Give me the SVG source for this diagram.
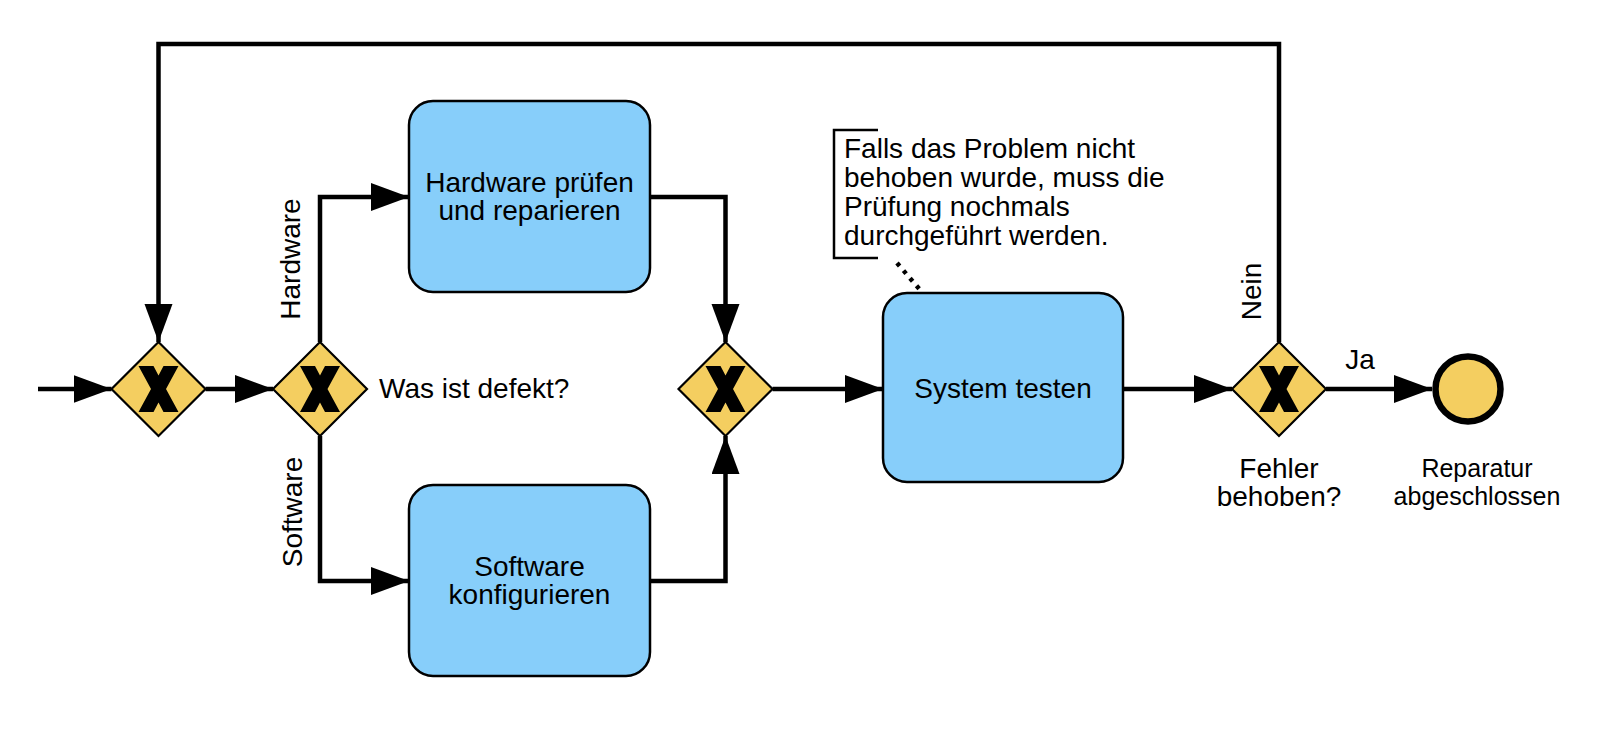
<svg xmlns="http://www.w3.org/2000/svg" width="1600" height="734" viewBox="0 0 1600 734">
<style>
text { font-family: "Liberation Sans", Arial, Helvetica, sans-serif; fill: #000; }
.lbl { font-size: 28px; }
.sm { font-size: 25px; }
.mid { text-anchor: middle; }
.task { fill: #87CEFA; stroke: #000; stroke-width: 2.5; }
.gw { fill: #F4CE60; stroke: #000; stroke-width: 2.2; stroke-linejoin: miter; }
.xm { fill: #000; }
.flow { fill: none; stroke: #000; stroke-width: 4.5; stroke-linejoin: miter; marker-end: url(#arrow); }
.assoc { fill: none; stroke: #000; stroke-width: 4.5; stroke-dasharray: 4 6; }
</style>
<defs>
<marker id="arrow" markerUnits="userSpaceOnUse" markerWidth="40" markerHeight="30" refX="38" refY="14" orient="auto">
<path d="M0,0 L38,14 L0,28 Z" fill="#000"/>
</marker>
<polygon id="xmark" points="-20,-23 -5,-23 0,-13.5 5,-23 20,-23 7.5,0 20,23 5,23 0,13.5 -5,23 -20,23 -7.5,0"/>
</defs>
<rect width="1600" height="734" fill="#fff"/>

<g id="connectors">
<path class="flow" d="M38,389 H111.5"/>
<path class="flow" d="M205.5,389 H273"/>
<path class="flow" d="M320,342 V197 H409"/>
<path class="flow" d="M320,436 V581 H409"/>
<path class="flow" d="M650,197 H725.5 V342"/>
<path class="flow" d="M650,581 H725.5 V436"/>
<path class="flow" d="M772.5,389 H883"/>
<path class="flow" d="M1123,389 H1232"/>
<path class="flow" d="M1326,389 H1432"/>
<path class="flow" d="M1279,342 V44 H158.5 V342"/>
<path class="assoc" d="M897,263 L921,291"/>
</g>

<g id="gw1">
<polygon class="gw" points="158.5,342 205.5,389 158.5,436 111.5,389"/>
<use href="#xmark" class="xm" x="158.5" y="389"/>
</g>

<g id="gw2">
<polygon class="gw" points="320,342 367,389 320,436 273,389"/>
<use href="#xmark" class="xm" x="320" y="389"/>
<text class="lbl" x="379" y="398">Was ist defekt?</text>
<text class="lbl mid" transform="translate(300,259) rotate(-90)">Hardware</text>
<text class="lbl mid" transform="translate(302,512) rotate(-90)">Software</text>
</g>

<g id="task-hw">
<rect class="task" x="409" y="101" width="241" height="191" rx="24"/>
<text class="lbl mid" x="529.5" y="192">Hardware prüfen</text>
<text class="lbl mid" x="529.5" y="220">und reparieren</text>
</g>

<g id="task-sw">
<rect class="task" x="409" y="485" width="241" height="191" rx="24"/>
<text class="lbl mid" x="529.5" y="576">Software</text>
<text class="lbl mid" x="529.5" y="604">konfigurieren</text>
</g>

<g id="gw3">
<polygon class="gw" points="725.5,342 772.5,389 725.5,436 678.5,389"/>
<use href="#xmark" class="xm" x="725.5" y="389"/>
</g>

<g id="task-test">
<rect class="task" x="883" y="293" width="240" height="189" rx="24"/>
<text class="lbl mid" x="1003" y="398">System testen</text>
</g>

<g id="annotation">
<path d="M878,130 H834 V258 H878" fill="none" stroke="#000" stroke-width="2.5"/>
<text class="lbl" x="844" y="158">Falls das Problem nicht</text>
<text class="lbl" x="844" y="187">behoben wurde, muss die</text>
<text class="lbl" x="844" y="216">Prüfung nochmals</text>
<text class="lbl" x="844" y="245">durchgeführt werden.</text>
</g>

<g id="gw4">
<polygon class="gw" points="1279,342 1326,389 1279,436 1232,389"/>
<use href="#xmark" class="xm" x="1279" y="389"/>
<text class="lbl mid" x="1279" y="478">Fehler</text>
<text class="lbl mid" x="1279" y="506">behoben?</text>
<text class="lbl mid" transform="translate(1261,291.5) rotate(-90)">Nein</text>
<text class="lbl mid" x="1360" y="369">Ja</text>
</g>

<g id="end">
<circle cx="1468" cy="389" r="32.5" fill="#F4CE60" stroke="#000" stroke-width="6.5"/>
<text class="sm mid" x="1477" y="477">Reparatur</text>
<text class="sm mid" x="1477" y="505">abgeschlossen</text>
</g>
</svg>
